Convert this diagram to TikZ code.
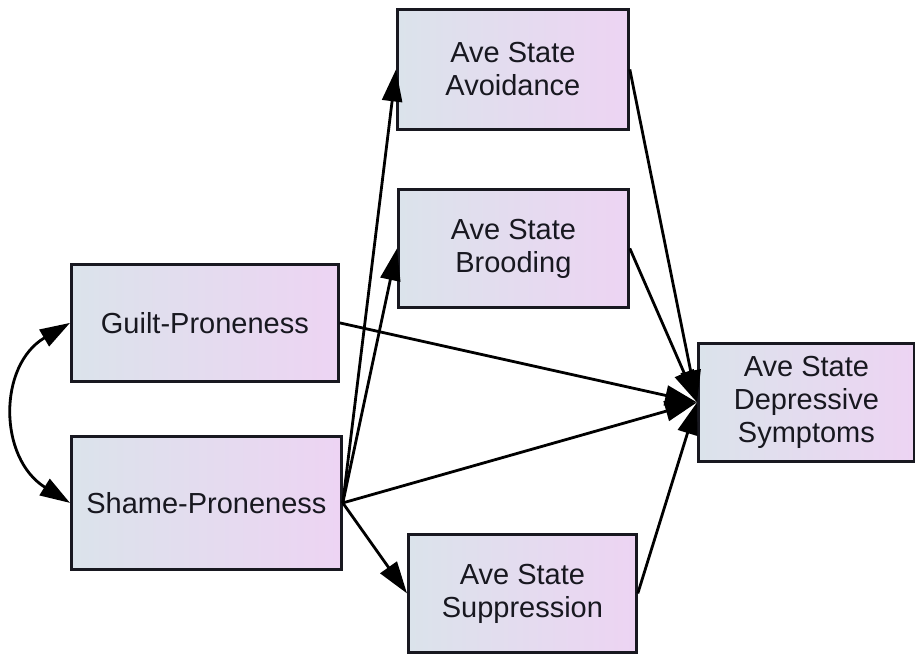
\documentclass[tikz,border=0pt]{standalone}
\usepackage{fontspec}
\setmainfont{Liberation Sans}
\usetikzlibrary{arrows.meta}
\definecolor{boxleft}{RGB}{219,227,235}
\definecolor{boxright}{RGB}{237,212,243}
\definecolor{ink}{RGB}{24,24,32}
\begin{document}
\begin{tikzpicture}[x=1pt,y=-1pt,
  var/.style={draw=ink, line width=2.8pt, left color=boxleft, right color=boxright,
    anchor=north west, inner sep=0pt, align=center, text=ink,
    font=\fontsize{29}{33}\selectfont},
  path/.style={draw=black, line width=2.8pt, -{Triangle[length=32pt,width=20pt]}},
  cov/.style={draw=black, line width=2.8pt, {Triangle[length=30pt,width=19pt]}-{Triangle[length=30pt,width=19pt]}}]
  \useasboundingbox (0,0) rectangle (915,653);
  % observed variables
  \node[var, minimum width=267pt, minimum height=117pt] (guilt) at (70,263) {Guilt-Proneness};
  \node[var, minimum width=270pt, minimum height=133pt] (shame) at (70,435) {Shame-Proneness};
  \node[var, minimum width=231pt, minimum height=120pt] (avoid) at (396,8) {Ave State\\Avoidance};
  \node[var, minimum width=230pt, minimum height=118pt] (brood) at (397,188) {Ave State\\Brooding};
  \node[var, minimum width=228pt, minimum height=118pt] (supp) at (407,533) {Ave State\\Suppression};
  \node[var, minimum width=216pt, minimum height=118pt] (dep) at (697,342) {Ave State\\Depressive\\Symptoms};
  % covariance between the predictors
  \draw[cov] (guilt.west) .. controls (-2,365) and (-2,458) .. (shame.west);
  % regression paths
  \draw[path] (shame.east) -- (avoid.west);
  \draw[path] (shame.east) -- (brood.west);
  \draw[path] (shame.east) -- (supp.west);
  \draw[path] (shame.east) -- (dep.west);
  \draw[path] (guilt.east) -- (dep.west);
  \draw[path] (avoid.east) -- (dep.west);
  \draw[path] (brood.east) -- (dep.west);
  \draw[path] (supp.east) -- (dep.west);
\end{tikzpicture}
\end{document}
